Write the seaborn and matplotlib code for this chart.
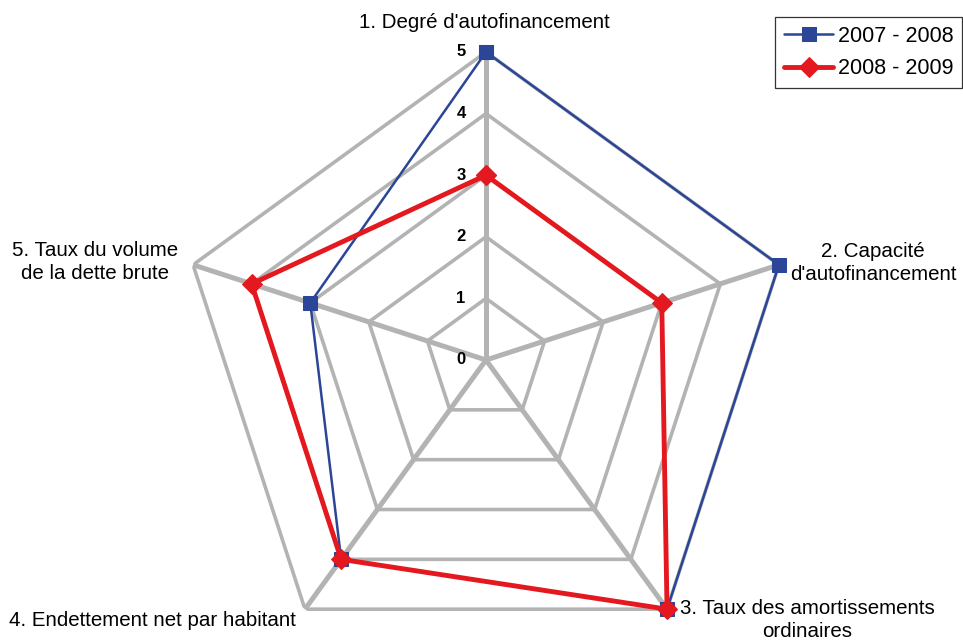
import numpy as np
import pandas as pd
import matplotlib
matplotlib.use('Agg')
import matplotlib.pyplot as plt
import seaborn as sns

axes_labels = ["1. Degré d'autofinancement", "2. Capacité\nd'autofinancement",
               "3. Taux des amortissements\nordinaires", "4. Endettement net par habitant",
               "5. Taux du volume\nde la dette brute"]
periods = ["2007 - 2008", "2008 - 2009"]
values_0708 = [5, 5, 5, 4, 3]
values_0809 = [3, 3, 5, 4, 4]
rings = [1, 2, 3, 4, 5]
tick_labels = ["0", "1", "2", "3", "4", "5"]

sns.set_style("white")
plt.rcParams['font.family'] = ['Liberation Sans', 'DejaVu Sans']
plt.rcParams['text.color'] = 'black'

W, H = 963, 644
fig = plt.figure(figsize=(W / 100, H / 100), dpi=100)
cx, cy, rad = 486, 360, 308
ax = fig.add_axes([(cx - rad) / W, (H - cy - rad) / H, 2 * rad / W, 2 * rad / H], projection='polar')
ax.set_theta_zero_location('N')
ax.set_theta_direction(-1)
ax.axis('off')

n = len(axes_labels)
theta = np.linspace(0, 2 * np.pi, n, endpoint=False)
theta_c = np.append(theta, theta[0])

# grille pentagonale + rayons
grey = '#b3b3b3'
for r in rings:
    ax.plot(theta_c, [r] * (n + 1), color=grey, lw=2.6, zorder=1)
for t in theta:
    ax.plot([t, t], [0, 5], color=grey, lw=3.6, zorder=1)

rows = []
for p, vals in zip(periods, [values_0708, values_0809]):
    closed = vals + [vals[0]]
    for t, v in zip(theta_c, closed):
        rows.append({'period': p, 'theta': t, 'r': v})
df = pd.DataFrame(rows)

styles = {"2007 - 2008": ('#2b4597', 's', 1.8, 10), "2008 - 2009": ('#e3191f', 'D', 3.5, 10)}
for p in periods:
    c, m, lw, ms = styles[p]
    sub = df[df['period'] == p]
    sns.lineplot(data=sub, x='theta', y='r', sort=False, ax=ax, color=c, lw=lw,
                 marker=m, markersize=ms, markeredgecolor=c, label=p, zorder=3,
                 estimator=None, clip_on=False)
ax.set_ylim(0, 5)
ax.axis('off')

for i, lab in enumerate(tick_labels):
    y = cy - i * rad / 5
    fig.text((cx - 25) / W, (H - y) / H, lab, ha='center', va='center', fontsize=12, fontweight='bold')

fs = 14.8
label_pos = [(484, 22), (873, 263), (807, 620), (152, 620), (95, 262)]
for lab, (x, y) in zip(axes_labels, label_pos):
    fig.text(x / W, (H - y) / H, lab, ha='center', va='center', fontsize=fs, linespacing=1.25)

leg = ax.legend(loc='upper right', bbox_to_anchor=(962 / W, (H - 17) / H),
                bbox_transform=fig.transFigure, frameon=True, fontsize=15.5,
                handlelength=2.3, handletextpad=0.2, borderpad=0.4, labelspacing=0.55,
                fancybox=False, borderaxespad=0)
leg.get_frame().set_edgecolor('black')
leg.get_frame().set_linewidth(0.9)

fig.savefig('out.png', dpi=100)
